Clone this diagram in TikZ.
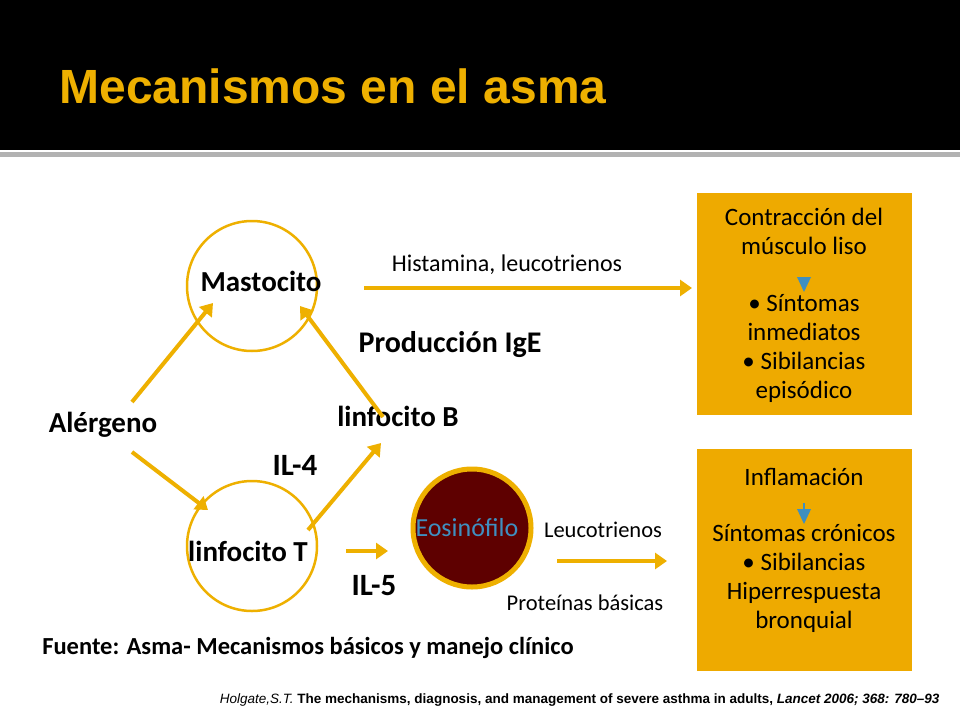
\documentclass[tikz,border=0pt]{standalone}
\usepackage{fontspec}
\setmainfont{Carlito}
\newfontfamily\arialf{Liberation Sans}
\usetikzlibrary{arrows.meta}
\definecolor{gold}{HTML}{EEB000}
\definecolor{boxgold}{HTML}{EEAA00}
\definecolor{eored}{HTML}{5E0000}
\definecolor{eoblue}{HTML}{3F8FC0}
\begin{document}
\begin{tikzpicture}[x=1pt,y=-1pt,
  cell/.style={circle,draw=gold,line width=2.5pt,minimum size=130pt,inner sep=0pt},
  flow/.style={gold,line width=4pt,-{Triangle[length=12pt,width=16pt]}},
  lbl/.style={font=\fontsize{29}{33}\selectfont\bfseries},
  small/.style={font=\fontsize{22.5}{26}\selectfont},
  infobox/.style={fill=boxgold,minimum width=215pt,minimum height=222pt,anchor=north west},
  boxtxt/.style={font=\fontsize{25}{29}\selectfont,align=center}]
% background and title band
\fill[white] (0,0) rectangle (960,720);
\fill[black] (0,0) rectangle (960,150);
\fill[black!30] (0,152) rectangle (960,157);
\node[font=\arialf\fontsize{48}{54}\selectfont\bfseries,text=gold,anchor=west] (title) at (56,86) {Mecanismos en el asma};

% cells
\node[cell] (mast) at (252,286) {};
\node[lbl] (mastt) at (261,281) {Mastocito};
\node[cell] (linT) at (252,546) {};
\node[lbl] (linTt) at (248,551) {linfocito T};
\node[circle,draw=gold,fill=eored,line width=5pt,minimum size=118pt] (eos) at (472,528) {};
\node[font=\fontsize{26}{30}\selectfont,text=eoblue] (eost) at (467,528) {Eosinófilo};

% labels
\node[lbl] (aler) at (103,425) {Alérgeno};
\node[lbl,font=\fontsize{30}{34}\selectfont\bfseries] (ige) at (450,345) {Producción IgE};
\node[lbl] (linB) at (398,416) {linfocito B};
\node[lbl,font=\fontsize{31}{35}\selectfont\bfseries] (il4) at (295,465) {IL-4};
\node[lbl,font=\fontsize{31}{35}\selectfont\bfseries] (il5) at (374,586) {IL-5};
\node[small,font=\fontsize{24}{28}\selectfont] (hist) at (507,265) {Histamina, leucotrienos};
\node[small] (leuc) at (603,530) {Leucotrienos};
\node[small] (prot) at (585,603) {Proteínas básicas};

% arrow ends
\coordinate (a1) at (132,402); \coordinate (a2) at (213,303);
\coordinate (b1) at (132,452); \coordinate (b2) at (208,510);
\coordinate (c1) at (383,417); \coordinate (c2) at (300,306);
\coordinate (d1) at (308,530); \coordinate (d2) at (381,443);
\coordinate (e1) at (346,551); \coordinate (e2) at (388,551);
\coordinate (f1) at (557,561); \coordinate (f2) at (667,561);
\coordinate (g1) at (364,288); \coordinate (g2) at (692,288);

\draw[flow] (a1) -- (a2);
\draw[flow] (b1) -- (b2);
\draw[flow] (c1) -- (c2);
\draw[flow] (d1) -- (d2);
\draw[flow] (e1) -- (e2);
\draw[flow] (f1) -- (f2);
\draw[flow] (g1) -- (g2);

% boxes
\node[infobox] (box1) at (697,193) {};
\node[boxtxt,anchor=north] (b1top) at (804,205) {Contracción del\\músculo liso};
\fill[eoblue] (797,277) -- (811,277) -- (804,292) -- cycle;
\node[boxtxt,anchor=north] (b1bot) at (804,291) {• Síntomas\\inmediatos\\• Sibilancias\\episódico};
\node[infobox] (box2) at (697,449) {};
\node[boxtxt,anchor=north] (b2top) at (804,465) {Inflamación};
\fill[eoblue] (797,509) -- (811,509) -- (804,524) -- cycle;
\draw[eoblue,line width=2pt] (804,503) -- (804,512);
\node[boxtxt,anchor=north] (b2bot) at (804,521) {Síntomas crónicos\\• Sibilancias\\Hiperrespuesta\\bronquial};

% sources
\node[font=\fontsize{24.5}{28}\selectfont\bfseries] (fuente) at (308,648) {Fuente: Asma- Mecanismos básicos y manejo clínico};
\node[font=\arialf\fontsize{13.5}{16}\selectfont,anchor=east] (cite) at (943,700)
  {\textit{Holgate,S.T.} \textbf{The mechanisms, diagnosis, and management of severe asthma in adults, \textit{Lancet 2006; 368: 780–93}}};
\end{tikzpicture}
\end{document}
